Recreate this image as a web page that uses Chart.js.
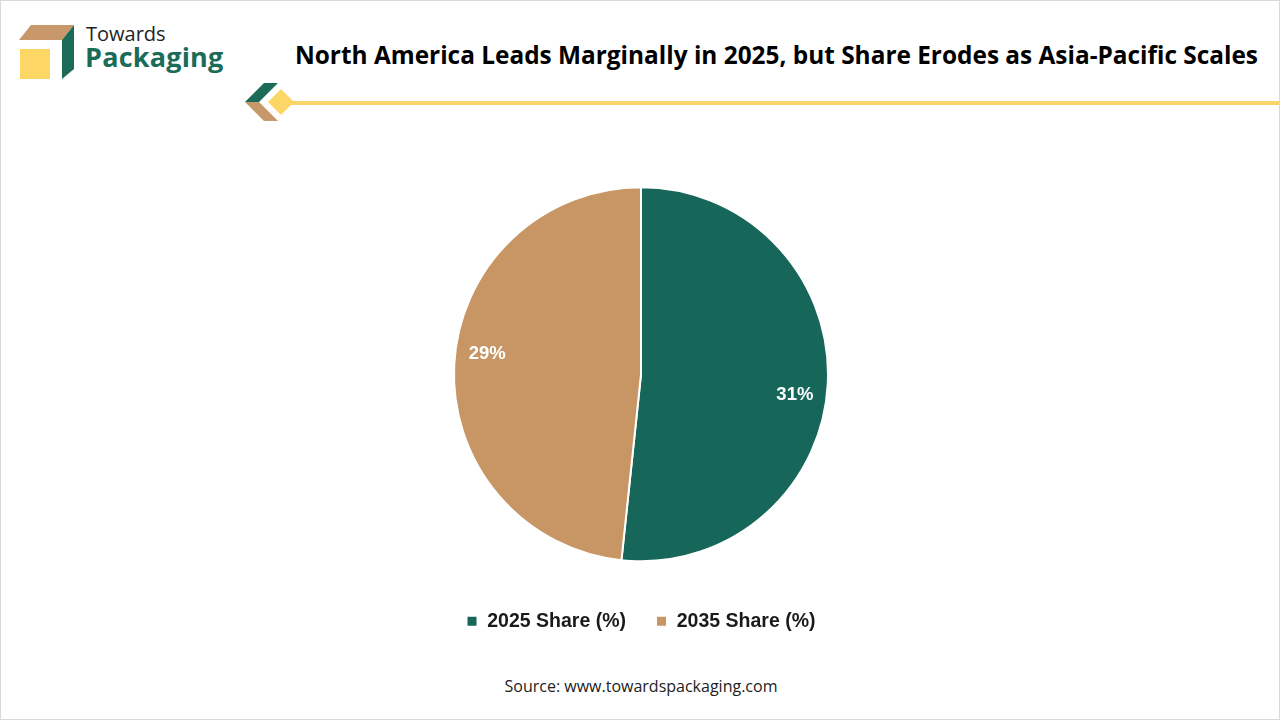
<!DOCTYPE html>
<html>
<head>
<meta charset="utf-8">
<script src="https://cdn.jsdelivr.net/npm/chart.js@4"></script>
<style>
  body { margin: 0; background: #fff; }
  #frame { position: relative; width: 1278px; height: 718px; border: 1px solid #d9d9d9; overflow: hidden; background: #fff; }
  #logo { position: absolute; left: 18px; top: 22px; }
  #brand1 { position: absolute; left: 85px; top: 19px; font: 400 20px 'Open Sans', sans-serif; color: #222; }
  #brand2 { position: absolute; left: 84px; top: 37px; font: 700 27px 'Open Sans', sans-serif; color: #1a6b58; letter-spacing: 0.2px; }
  #title { position: absolute; right: 21px; top: 37px; font: 700 24.4px 'Open Sans', sans-serif; color: #000; white-space: nowrap; }
  #deco { position: absolute; left: 243px; top: 82px; }
  #line { position: absolute; left: 290px; top: 100px; width: 990px; height: 4px; background: #f8d568; }
  #chartBox { position: absolute; left: 0; top: 150px; width: 1280px; height: 490px; }
  #source { position: absolute; left: 0; width: 1280px; top: 674px; text-align: center; font: 400 16px 'Open Sans', sans-serif; color: #222; }
</style>
</head>
<body>
<div id="frame">
  <svg id="logo" width="60" height="60" viewBox="0 0 60 60">
    <polygon points="0,17 12,2 55,2 43,17" fill="#c8976a"/>
    <polygon points="43,17 55,2 55,46 43,56" fill="#1a6b58"/>
    <rect x="1" y="26" width="30" height="30" fill="#fcd766"/>
  </svg>
  <div id="brand1">Towards</div>
  <div id="brand2">Packaging</div>
  <div id="title">North America Leads Marginally in 2025, but Share Erodes as Asia-Pacific Scales</div>
  <svg id="deco" width="54" height="40" viewBox="0 0 54 40">
    <polygon points="1,19 20,0 34,0 15,19" fill="#1a6b58"/>
    <polygon points="1,19 15,19 34,38 20,38" fill="#c8976a"/>
    <polygon points="37,6 50,19 37,32 24,19" fill="#fcd766"/>
  </svg>
  <div id="line"></div>
  <div id="chartBox"><canvas id="pie"></canvas></div>
  <div id="source">Source: www.towardspackaging.com</div>
</div>
<script>
const labels = ['2025 Share (%)', '2035 Share (%)'];
const shares = [31, 29];
const colors = ['#17665a', '#c89664'];

// write the % text near the outer edge of each slice
const sliceLabels = {
  id: 'sliceLabels',
  afterDatasetsDraw(chart) {
    const ctx = chart.ctx;
    const meta = chart.getDatasetMeta(0);
    ctx.save();
    ctx.fillStyle = '#fff';
    ctx.font = 'bold 18.5px "Liberation Sans", Arial, sans-serif';
    ctx.textAlign = 'center';
    ctx.textBaseline = 'middle';
    meta.data.forEach((arc, i) => {
      const mid = (arc.startAngle + arc.endAngle) / 2 + 0.08;
      const r = arc.outerRadius * 0.83;
      ctx.fillText(shares[i] + '%', arc.x + Math.cos(mid) * r, arc.y + Math.sin(mid) * r);
    });
    ctx.restore();
  }
};

new Chart(document.getElementById('pie'), {
  type: 'pie',
  data: {
    labels: labels,
    datasets: [{
      data: shares,
      backgroundColor: colors,
      borderColor: '#fff',
      borderWidth: 2,
      radius: 187
    }]
  },
  options: {
    responsive: true,
    maintainAspectRatio: false,
    animation: false,
    layout: { padding: { top: 16, bottom: 0 } },
    plugins: {
      legend: {
        position: 'bottom',
        labels: {
          boxWidth: 11,
          boxHeight: 11,
          padding: 30,
          color: '#1a1a1a',
          font: { family: '"Liberation Sans", Arial, sans-serif', size: 19.5, weight: 'bold' }
        }
      },
      tooltip: { enabled: false }
    }
  },
  plugins: [sliceLabels]
});
</script>
</body>
</html>
